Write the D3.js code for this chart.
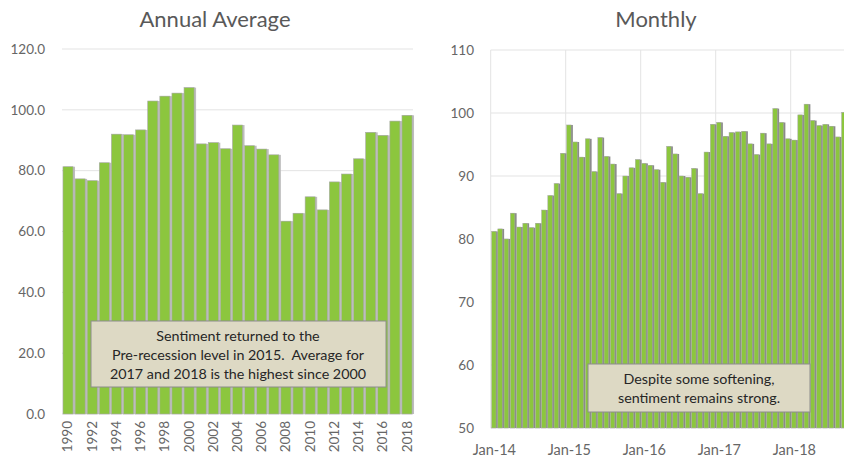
<!DOCTYPE html>
<html>
<head>
<meta charset="utf-8">
<script src="https://d3js.org/d3.v7.min.js"></script>
<style>
  body { margin: 0; background: #fff; }
  svg { display: block; font-family: Lato, "Open Sans", sans-serif; }
</style>
</head>
<body>
<svg width="844" height="460"></svg>
<script>
// annual averages 1990-2018
var years = d3.range(1990, 2019);
var annualValues = [81.3, 77.3, 76.7, 82.6, 92.0, 91.8, 93.4, 102.9, 104.5, 105.5,
  107.3, 88.8, 89.2, 87.2, 95.0, 88.2, 87.1, 85.2, 63.4, 66.0,
  71.4, 67.1, 76.3, 78.9, 83.9, 92.6, 91.6, 96.3, 98.2];
var annualTicks = [0, 20, 40, 60, 80, 100, 120];

// monthly, Jan-14 .. Sep-18
var monthlyValues = [
  81.2, 81.6, 80.0, 84.1, 81.9, 82.5, 81.8, 82.5, 84.6, 86.9, 88.8, 93.6,
  98.1, 95.4, 93.0, 95.9, 90.7, 96.1, 93.1, 91.9, 87.2, 90.0, 91.3, 92.6,
  92.0, 91.7, 91.0, 89.0, 94.7, 93.5, 90.0, 89.8, 91.2, 87.2, 93.8, 98.2,
  98.5, 96.3, 96.9, 97.0, 97.1, 95.1, 93.4, 96.8, 95.1, 100.7, 98.5, 95.9,
  95.7, 99.7, 101.4, 98.8, 98.0, 98.2, 97.9, 96.2, 100.1];
var monthLabels = ["Jan-14", "Jan-15", "Jan-16", "Jan-17", "Jan-18"];
var monthlyTicks = [50, 60, 70, 80, 90, 100, 110];

var green = "#8cc63e", textCol = "#666", gridCol = "#e3e3e3";
var svg = d3.select("svg");

// ---------- left: annual ----------
var xA = d3.scaleBand().domain(years).range([62, 413]).paddingInner(0.17).paddingOuter(0.08);
var yA = d3.scaleLinear().domain([0, 120]).range([414, 49]);

var left = svg.append("g");
left.append("text").attr("x", 215).attr("y", 27).attr("text-anchor", "middle")
  .attr("font-size", 22).attr("fill", "#595959").text("Annual Average");

left.selectAll(".grid").data(annualTicks).enter().append("line")
  .attr("x1", 62).attr("x2", 413)
  .attr("y1", function(d){ return yA(d); }).attr("y2", function(d){ return yA(d); })
  .attr("stroke", gridCol);

left.append("g").attr("transform", "translate(48,0)")
  .call(d3.axisLeft(yA).tickValues(annualTicks).tickFormat(d3.format(".1f")).tickSize(0))
  .call(function(g){ g.select(".domain").remove(); })
  .selectAll("text").attr("font-size", 13.5).attr("fill", textCol).attr("font-family", "Lato, sans-serif");

left.selectAll(".shadowA").data(annualValues).enter().append("rect")
  .attr("x", function(d, i){ return xA(years[i]) + 1; })
  .attr("y", function(d){ return yA(d); })
  .attr("width", xA.bandwidth() + 1)
  .attr("height", function(d){ return yA(0) - yA(d); })
  .attr("fill", "#bdbdbd");
left.selectAll(".barA").data(annualValues).enter().append("rect")
  .attr("x", function(d, i){ return xA(years[i]); })
  .attr("y", function(d){ return yA(d); })
  .attr("width", xA.bandwidth())
  .attr("height", function(d){ return yA(0) - yA(d); })
  .attr("fill", green).attr("stroke", "#a9a9a9").attr("stroke-width", 0.6);

left.selectAll(".yr").data(years.filter(function(y){ return y % 2 === 0; })).enter().append("text")
  .attr("transform", function(d){ return "translate(" + (xA(d) + xA.bandwidth() / 2 + 4.5) + ",421) rotate(-90)"; })
  .attr("text-anchor", "end").attr("font-size", 13.5).attr("fill", textCol).text(function(d){ return d; });

var boxA = left.append("g");
boxA.append("rect").attr("x", 91).attr("y", 321).attr("width", 295).attr("height", 66)
  .attr("fill", "#ddd9c4").attr("stroke", "#8c8c8c").attr("stroke-width", 1);
["Sentiment returned to the", "Pre-recession level in 2015.  Average for", "2017 and 2018 is the highest since 2000"]
  .forEach(function(t, i){
    boxA.append("text").attr("x", 238).attr("y", 341 + i * 19).attr("text-anchor", "middle")
      .attr("font-size", 14.3).attr("fill", "#262626").attr("xml:space", "preserve").text(t);
  });

// ---------- right: monthly ----------
var step = 6.25, x0 = 490.7;
var xM = d3.scaleBand().domain(d3.range(monthlyValues.length))
  .range([x0, x0 + step * monthlyValues.length]).paddingInner(0.28).paddingOuter(0.14);
var yM = d3.scaleLinear().domain([50, 110]).range([428, 50]);

var right = svg.append("g");
right.append("text").attr("x", 656).attr("y", 27).attr("text-anchor", "middle")
  .attr("font-size", 22).attr("fill", "#595959").text("Monthly");

right.selectAll(".gridM").data(monthlyTicks).enter().append("line")
  .attr("x1", x0).attr("x2", 844)
  .attr("y1", function(d){ return yM(d); }).attr("y2", function(d){ return yM(d); })
  .attr("stroke", gridCol);
right.selectAll(".vgrid").data(monthLabels).enter().append("line")
  .attr("x1", function(d, i){ return x0 + i * 12 * xM.step(); })
  .attr("x2", function(d, i){ return x0 + i * 12 * xM.step(); })
  .attr("y1", yM(110)).attr("y2", yM(50)).attr("stroke", gridCol);

right.append("g").attr("transform", "translate(477,0)")
  .call(d3.axisLeft(yM).tickValues(monthlyTicks).tickSize(0))
  .call(function(g){ g.select(".domain").remove(); })
  .selectAll("text").attr("font-size", 13.5).attr("fill", textCol).attr("font-family", "Lato, sans-serif");

right.selectAll(".shadowM").data(monthlyValues).enter().append("rect")
  .attr("x", function(d, i){ return xM(i) + 0.8; })
  .attr("y", function(d){ return yM(d); })
  .attr("width", xM.bandwidth() + 1)
  .attr("height", function(d){ return yM(50) - yM(d); })
  .attr("fill", "#8a8a8a");
right.selectAll(".barM").data(monthlyValues).enter().append("rect")
  .attr("x", function(d, i){ return xM(i); })
  .attr("y", function(d){ return yM(d); })
  .attr("width", xM.bandwidth())
  .attr("height", function(d){ return yM(50) - yM(d); })
  .attr("fill", green).attr("stroke", "#a9a9a9").attr("stroke-width", 0.5);

right.selectAll(".mlab").data(monthLabels).enter().append("text")
  .attr("x", function(d, i){ return xM(i * 12) + xM.bandwidth() / 2 + 0.5; })
  .attr("y", 455).attr("text-anchor", "middle").attr("font-size", 14.5).attr("fill", textCol)
  .text(function(d){ return d; });

var boxM = right.append("g");
boxM.append("rect").attr("x", 588).attr("y", 364).attr("width", 222).attr("height", 48)
  .attr("fill", "#ddd9c4").attr("stroke", "#8c8c8c").attr("stroke-width", 1);
["Despite some softening,", "sentiment remains strong."].forEach(function(t, i){
  boxM.append("text").attr("x", 699).attr("y", 384 + i * 19).attr("text-anchor", "middle")
    .attr("font-size", 14.3).attr("fill", "#262626").text(t);
});
</script>
</body>
</html>
